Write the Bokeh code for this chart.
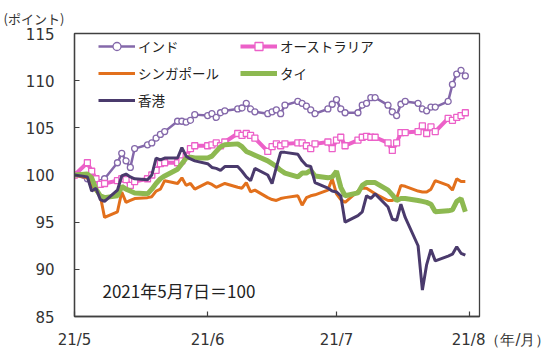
import pandas as pd
from bokeh.plotting import figure
from bokeh.models import FixedTicker, Legend, LegendItem, Label, Range1d
from bokeh.embed import file_html
from bokeh.resources import INLINE

dates = [
    "2021-05-07", "2021-05-10", "2021-05-11", "2021-05-12", "2021-05-13", "2021-05-14",
    "2021-05-17", "2021-05-18", "2021-05-19", "2021-05-20", "2021-05-21",
    "2021-05-24", "2021-05-25", "2021-05-26", "2021-05-27", "2021-05-28", "2021-05-31",
    "2021-06-01", "2021-06-02", "2021-06-03", "2021-06-04",
    "2021-06-07", "2021-06-08", "2021-06-09", "2021-06-10", "2021-06-11",
    "2021-06-14", "2021-06-15", "2021-06-16", "2021-06-17", "2021-06-18",
    "2021-06-21", "2021-06-22", "2021-06-23", "2021-06-24", "2021-06-25",
    "2021-06-28", "2021-06-29", "2021-06-30", "2021-07-01", "2021-07-02",
    "2021-07-05", "2021-07-06", "2021-07-07", "2021-07-08", "2021-07-09",
    "2021-07-12", "2021-07-13", "2021-07-14", "2021-07-15", "2021-07-16",
    "2021-07-19", "2021-07-20", "2021-07-21", "2021-07-22", "2021-07-23",
    "2021-07-26", "2021-07-27", "2021-07-28", "2021-07-29", "2021-07-30",
    "2021-08-02", "2021-08-03", "2021-08-04", "2021-08-05", "2021-08-06",
]

india = [
    100.0, 99.6, 99.2, 99.0, 99.2, 99.6, 101.3, 102.3, 101.5, 100.8, 102.8, 103.2, 103.4, 103.9, 104.3, 104.6, 105.7,
    105.7, 105.6, 105.8, 106.4, 106.3, 106.5, 106.1, 106.6, 106.8, 107.0, 107.1, 107.6, 107.0, 106.7, 106.5, 106.7,
    106.9, 106.5, 107.4, 107.8, 107.6, 107.3,
    106.9, 106.5, 107.0, 107.5, 108.0, 107.0, 106.6, 106.6, 107.4, 107.6, 108.2, 108.2, 107.4, 106.7, 106.3, 107.5,
    107.8, 107.6, 107.0, 106.8, 107.2, 107.2,
    107.8, 109.6, 110.7, 111.1, 110.5,
]
australia = [
    100.0, 101.3, 100.4, 99.6, 99.0, 99.1, 99.4, 99.6, 99.5, 98.9, 99.3, 99.6, 100.0, 100.5, 101.2, 101.3, 101.3,
    101.5, 102.0, 102.8, 103.1, 103.1, 103.2, 103.4, 103.1, 103.5, 104.4, 104.2, 104.4, 104.2, 103.9, 102.5, 103.0,
    103.3, 103.1, 103.3, 103.4, 103.4, 103.1,
    102.8, 103.3, 103.5, 102.8, 103.7, 104.0, 103.1, 103.7, 104.0, 104.1, 104.0, 104.0, 103.4, 102.6, 103.4, 104.5,
    104.5, 104.6, 105.2, 104.4, 105.1, 104.6,
    106.0, 105.8, 106.1, 106.3, 106.6,
]
singapore = [
    100.0, 99.7, 99.0, 98.3, 97.8, 95.5, 96.1, 98.2, 97.1, 97.3, 97.5, 97.6, 97.7, 98.3, 98.5, 99.4, 99.1,
    99.7, 98.9, 99.1, 98.5, 99.2, 99.0, 98.7, 98.9, 99.1, 98.7, 98.6, 99.2, 98.2, 98.4, 97.6, 97.4,
    97.3, 97.5, 97.6, 97.8, 96.8, 97.6,
    97.8, 97.9, 98.4, 99.6, 98.0, 97.4, 97.1, 98.3, 98.6, 98.6, 98.3, 98.0, 97.3, 97.3, 97.5, 98.9,
    98.8, 98.3, 98.2, 98.2, 98.5, 99.4,
    98.9, 98.4, 99.6, 99.3, 99.3,
]
thailand = [
    100.0, 100.1, 99.7, 98.5, 97.8, 97.6, 97.8, 98.8, 98.5, 98.3, 98.1, 98.0, 98.5, 99.1, 99.6, 99.9, 100.6,
    101.2, 101.8, 101.9, 101.8, 101.8, 102.0, 102.5, 103.0, 103.2, 103.3, 103.0, 102.5, 102.3, 102.1, 101.5, 101.2,
    100.9, 100.5, 100.2, 99.8, 100.2, 100.2,
    100.5, 99.9, 99.7, 99.8, 100.4, 98.7, 97.8, 98.1, 98.9, 99.2, 99.2, 99.2, 98.4, 97.9, 97.3, 97.5,
    97.5, 97.3, 97.2, 97.1, 96.9, 96.1,
    96.2, 96.3, 97.2, 97.5, 96.1,
]
hongkong = [
    100.0, 99.8, 98.3, 98.6, 97.4, 97.2, 98.4, 99.9, 100.1, 99.8, 99.6, 99.5, 100.0, 101.8, 101.6, 101.8, 101.8,
    102.9, 102.0, 101.7, 101.5, 101.2, 100.8, 100.7, 100.5, 100.9, 100.9, 100.4, 99.8, 99.4, 100.7, 100.0, 99.1,
    100.8, 102.4, 102.4, 102.2, 101.5, 101.0,
    100.9, 99.2, 98.6, 98.3, 98.2, 97.8, 95.0, 95.7, 96.1, 97.8, 97.5, 98.0, 96.6, 95.3, 95.2, 96.9,
    95.5, 92.5, 87.8, 90.5, 92.1, 90.9,
    91.4, 91.6, 92.4, 91.7, 91.5,
]

series_names = ["インド", "オーストラリア", "シンガポール", "タイ", "香港"]
x_tick_dates = ["2021-05-07", "2021-06-07", "2021-07-07", "2021-08-07"]
x_tick_labels = ["21/5", "21/6", "21/7", "\u3000\u3000\u3000\u3000\u00a021/8（年/月）"]
y_ticks = [85, 90, 95, 100, 105, 110, 115]

c_india = "#8468AA"
c_au = "#EC60C8"
c_sg = "#E2701C"
c_th = "#8DB951"
c_hk = "#4A3A6C"
txt = "#333333"
axis_c = "#404040"

x = pd.to_datetime(dates)
start = pd.Timestamp("2021-05-07")
end = start + pd.Timedelta(days=94.3)

p = figure(width=550, height=354, output_backend="svg", toolbar_location=None,
           x_axis_type="datetime", title="(ポイント)",
           x_range=Range1d(start, end), y_range=Range1d(85, 115),
           min_border_left=74, min_border_right=71, min_border_top=33, min_border_bottom=38)
p.title.align = "left"
p.title.offset = -71
p.title.standoff = 11
p.title.text_font = "Noto Sans CJK JP"
p.title.text_font_size = "13px"
p.title.text_font_style = "normal"
p.title.text_color = txt
p.xgrid.visible = False
p.ygrid.visible = False
p.outline_line_color = axis_c
p.outline_line_width = 1.3
p.background_fill_color = "white"
p.border_fill_color = "white"

tick_ms = [float(pd.Timestamp(d).value // 10**6) for d in x_tick_dates]
p.xaxis.ticker = FixedTicker(ticks=tick_ms)
p.xaxis.major_label_overrides = {t: l for t, l in zip(tick_ms, x_tick_labels)}
p.xaxis.minor_tick_line_color = None
p.yaxis.ticker = FixedTicker(ticks=y_ticks)
p.yaxis.minor_tick_line_color = None
for ax in (p.xaxis, p.yaxis):
    ax.axis_line_color = axis_c
    ax.axis_line_width = 1.3
    ax.major_tick_line_color = axis_c
    ax.major_tick_line_width = 1.2
    ax.major_tick_in = 5
    ax.major_tick_out = 0
    ax.major_label_text_font = "DejaVu Sans"
    ax.major_label_text_font_size = "15px"
    ax.major_label_text_color = txt
p.yaxis.major_label_standoff = 20
p.xaxis.major_label_standoff = 14

l_in = p.line(x, india, line_color=c_india, line_width=2.5)
s_in = p.scatter(x, india, marker="circle", size=6, fill_color="white", line_color=c_india, line_width=1.3)
l_au = p.line(x, australia, line_color=c_au, line_width=4)
s_au = p.scatter(x, australia, marker="square", size=6, fill_color="white", line_color=c_au, line_width=1.3)
l_sg = p.line(x, singapore, line_color=c_sg, line_width=3)
l_th = p.line(x, thailand, line_color=c_th, line_width=5)
l_hk = p.line(x, hongkong, line_color=c_hk, line_width=3)

def make_legend(items, loc):
    lg = Legend(items=items, location=loc, orientation="vertical")
    lg.glyph_width = 37
    lg.glyph_height = 20
    lg.label_height = 20
    lg.spacing = 7
    lg.padding = 0
    lg.margin = 0
    lg.label_standoff = 3
    lg.border_line_color = None
    lg.background_fill_alpha = 0
    lg.label_text_font = "Noto Sans CJK JP"
    lg.label_text_font_size = "13.5px"
    lg.label_text_color = "#222222"
    return lg

leg1 = make_legend([
    LegendItem(label=series_names[0], renderers=[l_in, s_in]),
    LegendItem(label=series_names[2], renderers=[l_sg]),
    LegendItem(label=series_names[4], renderers=[l_hk]),
], (24, 206))
leg2 = make_legend([
    LegendItem(label=series_names[1], renderers=[l_au, s_au]),
    LegendItem(label=series_names[3], renderers=[l_th]),
], (166, 233))
p.add_layout(leg1)
p.add_layout(leg2)

p.add_layout(Label(x=28, y=26, x_units="screen", y_units="screen", text="2021年5月7日＝100",
                   text_font="Noto Sans CJK JP", text_font_size="17px", text_color="#222222",
                   text_baseline="middle", text_align="left"))

open("out.html", "w").write(file_html(p, INLINE))
